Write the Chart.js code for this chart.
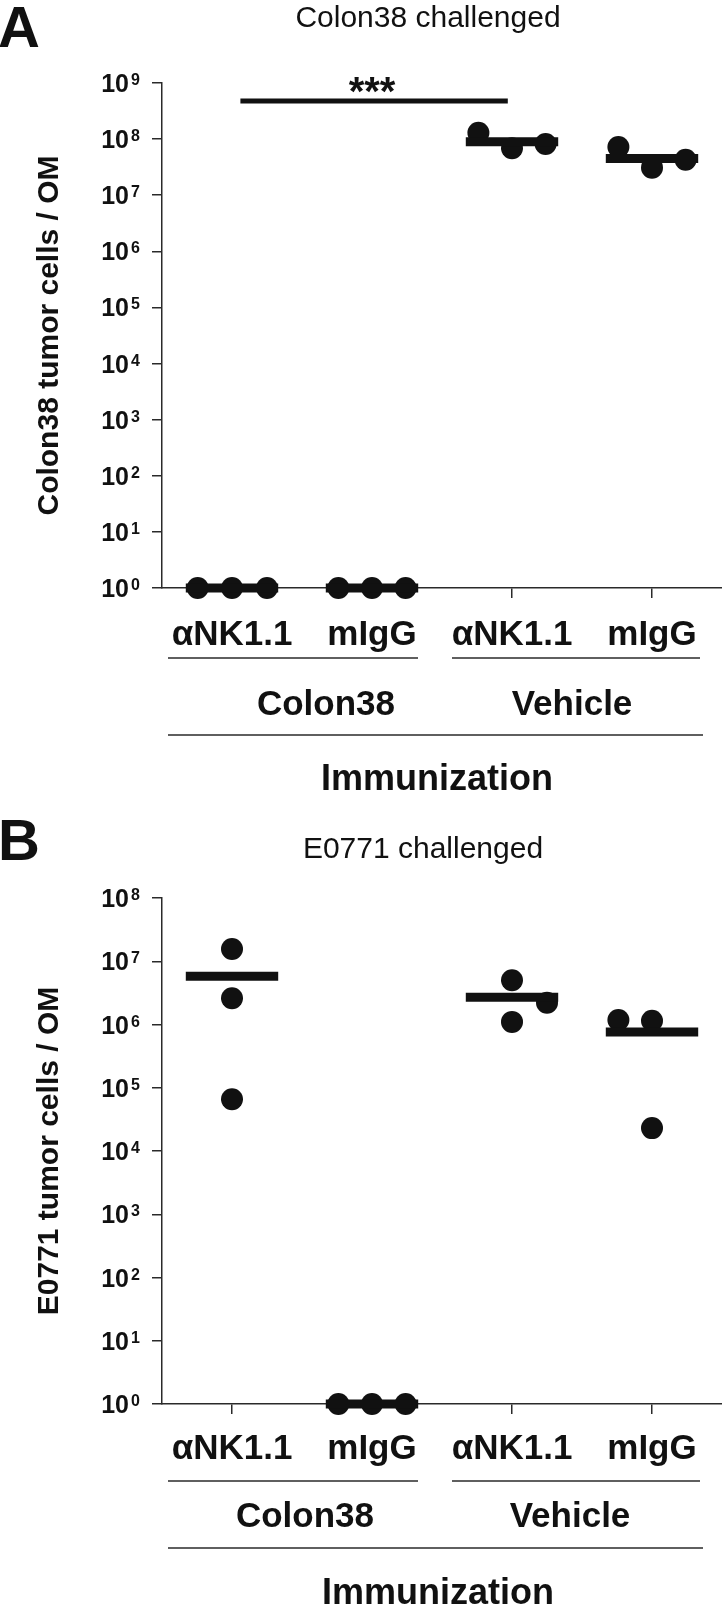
<!DOCTYPE html>
<html>
<head>
<meta charset="utf-8">
<script src="https://cdn.jsdelivr.net/npm/chart.js@4.4.1/dist/chart.umd.min.js"></script>
<style>
body{margin:0;background:#fff;}
canvas{display:block;}
</style>
</head>
<body>
<canvas id="chartA" width="722" height="800"></canvas>
<canvas id="chartB" width="722" height="807"></canvas>
<script>
// categories
const groupLabels = ["αNK1.1", "mIgG", "αNK1.1", "mIgG"];
const immunization = ["Colon38", "Vehicle"];
const immunizationTitle = "Immunization";

// panel A: Colon38 challenged
const colonExponents = [0, 1, 2, 3, 4, 5, 6, 7, 8, 9];
const colonValues = [
  [1, 1, 1],
  [1, 1, 1],
  [1.3e8, 6.9e7, 8.2e7],
  [7.2e7, 3.1e7, 4.3e7]
];
const colonMeans = [1, 1, 9.0e7, 4.5e7];
const colonSigPair = [1, 3];
const colonSigLevel = 4.8e8;
const colonSigLabel = "***";

// panel B: E0771 challenged
const e0771Exponents = [0, 1, 2, 3, 4, 5, 6, 7, 8];
const e0771Values = [
  [1.56e7, 2.6e6, 6.6e4],
  [1, 1, 1],
  [5.0e6, 2.2e6, 1.1e6],
  [1.18e6, 1.15e6, 2.3e4]
];
const e0771Means = [5.8e6, 1, 2.7e6, 7.6e5];

// horizontal scatter of the dots inside a group (category units)
const colonJitter = [[-0.245, 0, 0.25], [-0.24, 0, 0.24], [-0.24, 0, 0.24], [-0.24, 0, 0.24]];
const e0771Jitter = [[0, 0, 0], [-0.24, 0, 0.24], [0, 0.25, 0], [-0.24, 0, 0]];

const ink = "#111";
const axisInk = "#2a2a2a";
const FONT = '"Liberation Sans", Arial, Helvetica, sans-serif';
const meanHalf = 0.33;

function buildDatasets(values, jitter, means){
  const pts = [];
  values.forEach((g, i) => {
    g.forEach((v, j) => pts.push({x: i + 1 + jitter[i][j], y: v}));
  });
  const sets = means.map((m, i) => ({
    data: [{x: i + 1 - meanHalf, y: m}, {x: i + 1 + meanHalf, y: m}],
    showLine: true,
    borderColor: ink,
    borderWidth: 9,
    borderCapStyle: "butt",
    pointRadius: 0,
    clip: false
  }));
  sets.push({
    data: pts,
    pointRadius: 11,
    pointBackgroundColor: ink,
    pointBorderWidth: 0,
    clip: false
  });
  return sets;
}

const figureText = {
  id: "figureText",
  afterDraw(chart, args, o){
    const ctx = chart.ctx;
    const xs = chart.scales.x, ys = chart.scales.y;
    const base = ys.bottom;
    ctx.save();
    ctx.fillStyle = ink;
    ctx.strokeStyle = ink;
    ctx.textBaseline = "alphabetic";

    ctx.font = "bold 58px " + FONT;
    ctx.textAlign = "left";
    ctx.fillText(o.letter, -2, o.letterBase);

    ctx.font = "30px " + FONT;
    ctx.textAlign = "center";
    ctx.fillText(o.title, o.titleX, o.titleBase);

    // y tick labels 10^n
    ys.ticks.forEach(t => {
      const py = ys.getPixelForValue(t.value);
      ctx.font = "bold 25px " + FONT;
      ctx.textAlign = "right";
      ctx.fillText("10", 129, py + 9);
      ctx.font = "bold 16px " + FONT;
      ctx.textAlign = "left";
      ctx.fillText(String(Math.round(Math.log10(t.value))), 131, py + 2);
    });

    // y title
    ctx.save();
    ctx.translate(58, (ys.top + ys.bottom) / 2);
    ctx.rotate(-Math.PI / 2);
    ctx.font = "bold 30px " + FONT;
    ctx.textAlign = "center";
    ctx.fillText(o.yTitle, 0, 0);
    ctx.restore();

    // category labels
    ctx.font = "bold 35px " + FONT;
    ctx.textAlign = "center";
    groupLabels.forEach((l, i) => ctx.fillText(l, xs.getPixelForValue(i + 1), base + o.labelOff));

    // group rules and names
    ctx.lineWidth = 1.5;
    ctx.strokeStyle = axisInk;
    const rule = (x1, x2, yy) => { ctx.beginPath(); ctx.moveTo(x1, yy); ctx.lineTo(x2, yy); ctx.stroke(); };
    rule(xs.getPixelForValue(1) - 64, xs.getPixelForValue(2) + 46, base + o.rule1Off);
    rule(xs.getPixelForValue(3) - 60, xs.getPixelForValue(4) + 48, base + o.rule1Off);
    rule(xs.getPixelForValue(1) - 64, xs.getPixelForValue(4) + 51, base + o.rule2Off);
    immunization.forEach((l, i) => ctx.fillText(l, o.groupX[i], base + o.groupOff));
    ctx.font = "bold 36px " + FONT;
    ctx.fillText(immunizationTitle, o.immX, base + o.immOff);

    // significance label
    if (o.sig) {
      const cx = (xs.getPixelForValue(o.sig[0]) + xs.getPixelForValue(o.sig[1])) / 2;
      const sy = ys.getPixelForValue(o.sigLevel);
      ctx.font = "bold 40px " + FONT;
      ctx.fillText(o.sigLabel, cx, sy + 4);
    }
    ctx.restore();
  }
};

function makeChart(id, values, jitter, means, exponents, pad, text, extra){
  const datasets = buildDatasets(values, jitter, means);
  if (extra) datasets.push(extra);
  return new Chart(document.getElementById(id), {
    type: "scatter",
    data: {datasets: datasets},
    plugins: [figureText],
    options: {
      responsive: false,
      animation: false,
      devicePixelRatio: 1,
      layout: {padding: pad, autoPadding: false},
      plugins: {legend: {display: false}, tooltip: {enabled: false}, figureText: text},
      scales: {
        x: {
          type: "linear",
          min: 0.5,
          max: 4.5,
          afterBuildTicks: s => { s.ticks = groupLabels.map((l, i) => ({value: i + 1})); },
          ticks: {display: false},
          grid: {drawOnChartArea: false, drawTicks: true, tickLength: 10, tickColor: axisInk, lineWidth: 1.5},
          border: {display: true, color: axisInk, width: 1.5}
        },
        y: {
          type: "logarithmic",
          min: 1,
          max: Math.pow(10, exponents[exponents.length - 1]),
          afterBuildTicks: s => { s.ticks = exponents.map(e => ({value: Math.pow(10, e)})); },
          ticks: {display: false},
          grid: {drawOnChartArea: false, drawTicks: true, tickLength: 10, tickColor: axisInk, lineWidth: 1.5},
          border: {display: true, color: axisInk, width: 1.5}
        }
      }
    }
  });
}

const sigBar = {
  data: [{x: colonSigPair[0] + 0.06, y: colonSigLevel}, {x: colonSigPair[1] - 0.03, y: colonSigLevel}],
  showLine: true,
  borderColor: ink,
  borderWidth: 5,
  borderCapStyle: "butt",
  pointRadius: 0,
  clip: false
};

makeChart("chartA", colonValues, colonJitter, colonMeans, colonExponents,
  {left: 152, right: 0, top: 83, bottom: 202},
  {letter: "A", letterBase: 47, title: "Colon38 challenged", titleX: 428, titleBase: 27,
   yTitle: "Colon38 tumor cells / OM", labelOff: 57, rule1Off: 70, groupOff: 127, rule2Off: 147,
   immOff: 202, groupX: [326, 572], immX: 437,
   sig: colonSigPair, sigLevel: colonSigLevel, sigLabel: colonSigLabel},
  sigBar);

makeChart("chartB", e0771Values, e0771Jitter, e0771Means, e0771Exponents,
  {left: 152, right: 0, top: 98, bottom: 193},
  {letter: "B", letterBase: 60, title: "E0771 challenged", titleX: 423, titleBase: 58,
   yTitle: "E0771 tumor cells / OM", labelOff: 55, rule1Off: 77, groupOff: 123, rule2Off: 144,
   immOff: 200, groupX: [305, 570], immX: 438});
</script>
</body>
</html>
